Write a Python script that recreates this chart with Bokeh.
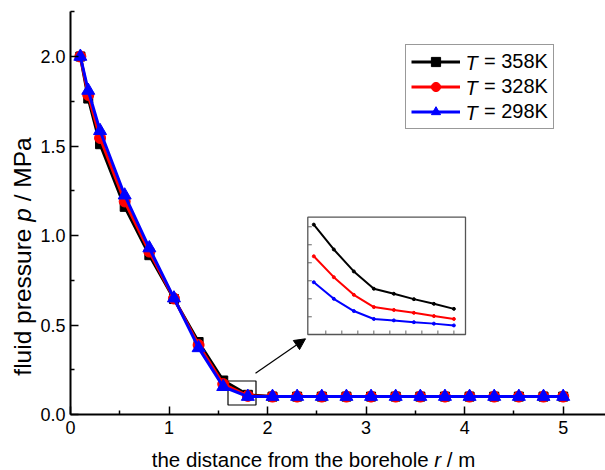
import math
from bokeh.plotting import figure
from bokeh.models import (Range1d, Legend, LegendItem, Label, BoxAnnotation,
                          Arrow, NormalHead, FixedTicker, PrintfTickFormatter,
                          LinearAxis)
from bokeh.embed import file_html
from bokeh.resources import INLINE

# ---------------- data ----------------
r_m = [0.1, 0.18, 0.3, 0.55, 0.8, 1.05, 1.3, 1.55, 1.8, 2.05, 2.3, 2.55, 2.8,
       3.05, 3.3, 3.55, 3.8, 4.05, 4.3, 4.55, 4.8, 5.0]
p_358K = [2.0, 1.765, 1.51, 1.16, 0.89, 0.645, 0.405, 0.19, 0.11, 0.1, 0.1, 0.1,
          0.1, 0.1, 0.1, 0.1, 0.1, 0.1, 0.1, 0.1, 0.1, 0.1]
p_328K = [2.0, 1.785, 1.545, 1.19, 0.91, 0.648, 0.388, 0.17, 0.104, 0.1, 0.1, 0.1,
          0.1, 0.1, 0.1, 0.1, 0.1, 0.1, 0.1, 0.1, 0.1, 0.1]
p_298K = [2.0, 1.81, 1.585, 1.225, 0.93, 0.65, 0.372, 0.155, 0.1, 0.1, 0.1, 0.1,
          0.1, 0.1, 0.1, 0.1, 0.1, 0.1, 0.1, 0.1, 0.1, 0.1]
series_labels = ["358K", "328K", "298K"]

# inset (zoomed detail near r = 1.8 m)
inset_r = [1.65, 1.70, 1.75, 1.80, 1.85, 1.90, 1.95, 2.00]
inset_358K = [0.1206, 0.1137, 0.1076, 0.1028, 0.1014, 0.0999, 0.0986, 0.0972]
inset_328K = [0.1118, 0.1060, 0.1011, 0.0977, 0.0969, 0.0961, 0.0952, 0.0944]
inset_298K = [0.1046, 0.1000, 0.0966, 0.0944, 0.0940, 0.0935, 0.0931, 0.0926]
inset_y_ticks = [0.095, 0.100, 0.105, 0.110, 0.115, 0.120]
inset_x_ticks = [1.68, 1.72, 1.76, 1.80, 1.84, 1.88, 1.92, 1.96, 2.00]

x_ticks = [0, 1, 2, 3, 4, 5]
x_minor = [0.5, 1.5, 2.5, 3.5, 4.5]
y_ticks = [0.0, 0.5, 1.0, 1.5, 2.0]
y_minor = [0.25, 0.75, 1.25, 1.75, 2.25]

# ---------------- geometry (canvas pixels) ----------------
W, H = 605, 470
X0PX, Y0PX = 70, 414        # canvas position of data origin
PXU, PYU = 98.54, 179.0     # pixels per data unit


def dx(px):
    return (px - X0PX) / PXU


def dy(py):
    return (Y0PX - py) / PYU


FONT = "Liberation Sans"

AW = {' ': 278, '/': 278, '=': 584, '0': 556, '1': 556, '2': 556, '3': 556,
      '5': 556, '8': 556, '9': 556, 'K': 667, 'M': 833, 'P': 667, 'T': 611,
      'a': 556, 'b': 556, 'c': 500, 'd': 556, 'e': 556, 'f': 278, 'h': 556,
      'i': 222, 'l': 222, 'm': 833, 'n': 556, 'o': 556, 'p': 556, 'r': 333,
      's': 500, 't': 278, 'u': 556}


def tw(s, size):
    return sum(AW.get(c, 556) for c in s) / 1000.0 * size


p = figure(width=W, height=H, output_backend="svg", toolbar_location=None,
           x_range=Range1d(dx(0), dx(W)), y_range=Range1d(dy(H), dy(0)),
           x_axis_location=None, y_axis_location=None,
           min_border=0, min_border_left=0, min_border_top=0,
           min_border_right=0, min_border_bottom=0)
p.outline_line_color = None
p.grid.visible = False
p.background_fill_color = "white"
p.border_fill_color = "white"

xaxis = LinearAxis(fixed_location=0, bounds=(0, dx(W)))
yaxis = LinearAxis(fixed_location=0, bounds=(0, dy(11)))
for ax in (xaxis, yaxis):
    ax.axis_line_width = 2
    ax.axis_line_color = "black"
    ax.major_tick_in = 8
    ax.major_tick_out = 0
    ax.minor_tick_in = 4
    ax.minor_tick_out = 0
    ax.major_tick_line_width = 1.5
    ax.minor_tick_line_width = 1.5
    ax.major_tick_line_color = "black"
    ax.minor_tick_line_color = "black"
    ax.major_label_text_font = FONT
    ax.major_label_text_font_size = "18px"
    ax.major_label_text_color = "black"
    ax.axis_label = None
xaxis.ticker = FixedTicker(ticks=x_ticks, minor_ticks=x_minor)
yaxis.ticker = FixedTicker(ticks=y_ticks, minor_ticks=y_minor)
yaxis.formatter = PrintfTickFormatter(format="%.1f")
xaxis.major_label_standoff = 6
yaxis.major_label_standoff = 5
p.add_layout(xaxis, "below")
p.add_layout(yaxis, "left")

# zoom box (underlay)
p.add_layout(BoxAnnotation(left=dx(227.5), right=dx(255.5), bottom=dy(404.5),
                           top=dy(380.5), fill_alpha=0, line_color="black",
                           line_alpha=1, line_width=1.2, level="underlay"))

# series
colors = ["black", "red", "blue"]
markers = ["square", "circle", "triangle"]
msizes = [9, 11, 13]
ys = [p_358K, p_328K, p_298K]
items = []
for lab, yv, c, m, s in zip(series_labels, ys, colors, markers, msizes):
    ln = p.line(r_m, yv, line_color=c, line_width=3)
    sc = p.scatter(r_m, yv, marker=m, size=s, fill_color=c, line_color=c)
    items.append(LegendItem(label="= " + lab, renderers=[ln, sc]))

# legend (italic "T" added as separate labels)
LEG_X, LEG_TOP, LEG_PAD, LEG_ROW, LEG_SP = 405, 46, 5, 23, 2
LEG_H = 2 * LEG_PAD + 3 * LEG_ROW + 2 * LEG_SP
GLYPH_W = 49
T_FS = 20
legend = Legend(items=items, location=(LEG_X, H - LEG_TOP - LEG_H),
                padding=LEG_PAD, spacing=LEG_SP, margin=0,
                glyph_width=GLYPH_W, glyph_height=LEG_ROW, label_height=LEG_ROW,
                label_standoff=round(6 + tw("T ", T_FS)), label_text_font=FONT,
                label_text_font_size=f"{T_FS}px", label_text_color="black",
                border_line_color="#333333", border_line_width=1.5,
                background_fill_alpha=0)
p.add_layout(legend)
for i in range(3):
    cy = LEG_TOP + LEG_PAD + LEG_ROW / 2 + i * (LEG_ROW + LEG_SP)
    p.add_layout(Label(x=dx(LEG_X + LEG_PAD + GLYPH_W + 6), y=dy(cy), text="T",
                       text_font=FONT, text_font_size=f"{T_FS}px",
                       text_font_style="italic", text_baseline="middle",
                       text_align="left", text_color="black"))

# arrow to inset
p.add_layout(Arrow(x_start=dx(255), y_start=dy(372.7), x_end=dx(305), y_end=dy(338.3),
                   line_width=1.2, line_color="black",
                   end=NormalHead(size=11, fill_color="black", line_color="black")))

# inset
IL, IR, IB, IT = 307.3, 465.0, 334.0, 216.7
ix0, ix1 = 1.635, 2.029
iy0, iy1 = 0.09008, 0.12266
p.add_layout(BoxAnnotation(left=dx(IL), right=dx(IR), bottom=dy(IB), top=dy(IT),
                           fill_color="white", fill_alpha=1, line_color="#555555",
                           line_alpha=1, line_width=1.3, level="underlay"))
sub = p.subplot(x_source=Range1d(ix0, ix1), y_source=Range1d(iy0, iy1),
                x_target=Range1d(dx(IL), dx(IR)), y_target=Range1d(dy(IB), dy(IT)))
xpx = (ix1 - ix0) / (IR - IL)
ypx = (iy1 - iy0) / (IB - IT)
sub.segment(x0=[ix0] * len(inset_y_ticks), y0=inset_y_ticks,
            x1=[ix0 + 4 * xpx] * len(inset_y_ticks), y1=inset_y_ticks,
            line_color="#666666", line_width=1)
sub.segment(x0=inset_x_ticks, y0=[iy0] * len(inset_x_ticks),
            x1=inset_x_ticks, y1=[iy0 + 4 * ypx] * len(inset_x_ticks),
            line_color="#666666", line_width=1)
for yv, c in zip([inset_358K, inset_328K, inset_298K], colors):
    sub.line(inset_r, yv, line_color=c, line_width=2)
    sub.scatter(inset_r, yv, marker="circle", size=3, fill_color=c, line_color=c)

# axis titles (pieces so that the symbols can be italic; spaces are advanced, not drawn)
XF = 20.5
xparts = [("the distance from the borehole", "normal", 1), ("r", "italic", 1),
          ("/ m", "normal", 0)]
xtot = sum(tw(t, XF) + n * tw(" ", XF) for t, _, n in xparts)
cur = 313 - xtot / 2
for t, st, n in xparts:
    p.add_layout(Label(x=dx(cur), y=dy(466.5 - 0.3465 * XF), text=t, text_font=FONT,
                       text_font_size=f"{XF}px", text_font_style=st,
                       text_align="left", text_baseline="middle",
                       text_color="black"))
    cur += tw(t, XF) + n * tw(" ", XF)

YF = 24.5
yparts = [("fluid pressure", "normal", 1), ("p", "italic", 1), ("/ MPa", "normal", 0)]
ytot = sum(tw(t, YF) + n * tw(" ", YF) for t, _, n in yparts)
cur = 256 + ytot / 2
for t, st, n in yparts:
    p.add_layout(Label(x=dx(30.5 - 0.3465 * YF), y=dy(cur), text=t, text_font=FONT,
                       text_font_size=f"{YF}px", text_font_style=st, angle=math.pi / 2,
                       text_align="left", text_baseline="middle",
                       text_color="black"))
    cur -= tw(t, YF) + n * tw(" ", YF)

open("out.html", "w").write(file_html(p, INLINE))
